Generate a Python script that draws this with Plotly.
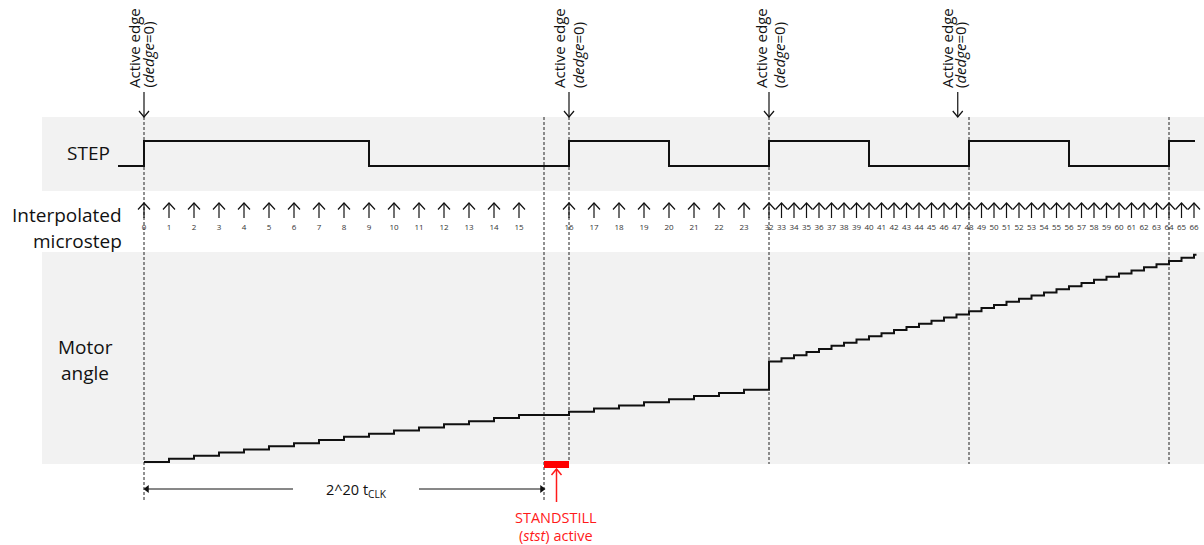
import plotly.graph_objects as go

W, H = 1204, 545
X0_PX, SLOT_PX = 144.0, 25.0      # pixel of t=0 and pixels per time slot


def px2t(px):
    return (px - X0_PX) / SLOT_PX

# ---------------- data ----------------
microstep_index = [0, 1, 2, 3, 4, 5, 6, 7, 8, 9, 10, 11, 12, 13, 14, 15,
                   16, 17, 18, 19, 20, 21, 22, 23,
                   32, 33, 34, 35, 36, 37, 38, 39, 40, 41, 42, 43, 44, 45, 46, 47,
                   48, 49, 50, 51, 52, 53, 54, 55, 56, 57, 58, 59, 60, 61, 62, 63,
                   64, 65, 66]
microstep_time = [0, 1, 2, 3, 4, 5, 6, 7, 8, 9, 10, 11, 12, 13, 14, 15,
                  17, 18, 19, 20, 21, 22, 23, 24,
                  25, 25.5, 26, 26.5, 27, 27.5, 28, 28.5, 29, 29.5, 30, 30.5, 31, 31.5, 32, 32.5,
                  33, 33.5, 34, 34.5, 35, 35.5, 36, 36.5, 37, 37.5, 38, 38.5, 39, 39.5, 40, 40.5,
                  41, 41.5, 42]

step_time = [-1.04, 0, 9, 17, 21, 25, 29, 33, 37, 41, 42.04]
step_level = [0, 1, 0, 1, 0, 1, 0, 1, 0, 1, 1]

angle_time = microstep_time + [42.1]
angle_value = microstep_index + [66]

active_edge_time = [0, 17, 25, 32.55]
marker_time = [0, 16, 17, 25, 33, 41]
marker_bottom_px = [502, 502, 461, 464, 464, 464]
standstill_start, standstill_end = 16, 17

# ---------------- axis mappings ----------------
def overlay_range(v_a, p_a, v_b, p_b):
    s = (p_a - p_b) / (v_b - v_a)          # pixels per unit (upwards)
    hi = v_a + p_a / s
    lo = hi - H / s
    return [lo, hi]

angle_range = overlay_range(0, 462, 64, 261)
step_range = overlay_range(0, 166, 1, 141)

FONT = "Open Sans"
INK = "#111111"
RED = "#ff1a1a"

fig = go.Figure()

# STEP signal
fig.add_trace(go.Scatter(x=step_time, y=step_level, yaxis="y3", mode="lines",
                         line=dict(color=INK, width=2, shape="hv"), hoverinfo="skip"))

# Motor angle
fig.add_trace(go.Scatter(x=angle_time, y=angle_value, yaxis="y2", mode="lines",
                         line=dict(color=INK, width=2, shape="hv"), hoverinfo="skip"))

# vertical dashed marker lines
vx, vy = [], []
for t, b in zip(marker_time, marker_bottom_px):
    vx += [t, t, None]
    vy += [117, b, None]
fig.add_trace(go.Scatter(x=vx, y=vy, mode="lines",
                         line=dict(color="#222222", width=1, dash="3px,2px"), hoverinfo="skip"))

# interpolated microstep arrows
ax_, ay_ = [], []
hw = 6 / SLOT_PX
for t in microstep_time:
    ax_ += [t, t, None, t - hw, t, t + hw, None]
    ay_ += [218, 203, None, 209.5, 203, 209.5, None]
fig.add_trace(go.Scatter(x=ax_, y=ay_, mode="lines",
                         line=dict(color=INK, width=1.2), hoverinfo="skip"))
fig.add_trace(go.Scatter(x=microstep_time, y=[228] * len(microstep_time), mode="text",
                         text=[str(i) for i in microstep_index],
                         textfont=dict(family=FONT, size=8, color="#333333"), hoverinfo="skip"))

# active edge arrows
ex, ey = [], []
hw2 = 5 / SLOT_PX
for t in active_edge_time:
    ex += [t, t, None, t - hw2, t, t + hw2, None]
    ey += [92, 117, None, 111, 117, 111, None]
fig.add_trace(go.Scatter(x=ex, y=ey, mode="lines",
                         line=dict(color=INK, width=1.2), hoverinfo="skip"))

# red standstill arrow
rt = (standstill_start + standstill_end) / 2
fig.add_trace(go.Scatter(x=[rt, rt, None, rt - hw2, rt, rt + hw2],
                         y=[502, 469, None, 475, 469, 475], mode="lines",
                         line=dict(color=RED, width=1.5), hoverinfo="skip"))

# 2^20 tCLK dimension arrows
tip_l, tip_r = 0.12, standstill_start - 0.08
fig.add_trace(go.Scatter(x=[tip_l, px2t(293), None, px2t(419), tip_r],
                         y=[489, 489, None, 489, 489], mode="lines",
                         line=dict(color=INK, width=1), hoverinfo="skip"))
fig.add_trace(go.Scatter(x=[tip_l, tip_r], y=[489, 489], mode="markers",
                         marker=dict(symbol=["triangle-left", "triangle-right"], size=7,
                                     color=INK, line=dict(width=0)), hoverinfo="skip"))

shapes = [
    dict(type="rect", xref="x", yref="y", x0=px2t(42), x1=px2t(W + 5), y0=117, y1=191,
         fillcolor="#f2f2f2", line=dict(width=0), layer="below"),
    dict(type="rect", xref="x", yref="y", x0=px2t(42), x1=px2t(W + 5), y0=252, y1=464,
         fillcolor="#f2f2f2", line=dict(width=0), layer="below"),
    dict(type="rect", xref="x", yref="y", x0=standstill_start, x1=standstill_end, y0=461, y1=468,
         fillcolor="#ff0000", line=dict(width=0)),
]

ann = []

def txt(x_px, y_px, s, size, color=INK, xanchor="center", angle=0, yanchor="middle"):
    ann.append(dict(x=px2t(x_px), y=y_px, xref="x", yref="y", text=s, showarrow=False,
                    xanchor=xanchor, yanchor=yanchor, textangle=angle,
                    font=dict(family=FONT, size=size, color=color)))

txt(112, 153, "STEP", 19, xanchor="right")
txt(124, 215, "Interpolated", 19, xanchor="right")
txt(124, 241, "microstep", 19, xanchor="right")
txt(85, 347, "Motor", 19)
txt(85, 373, "angle", 19)

active_x = [134, 559, 761, 947]
dedge_x = [147.5, 578, 779, 960]
for a, d in zip(active_x, dedge_x):
    txt(a, 90, "Active edge", 15, angle=-90, yanchor="bottom")
    txt(d, 90, "(<i>dedge</i>=0)", 15, angle=-90, yanchor="bottom")

txt(356, 490, "2^20 t<sub>CLK</sub>", 14.5)

txt(556, 517, "STANDSTILL", 14.5, color=RED)
txt(556, 535, "(<i>stst</i>) active", 14.5, color=RED)

ax_off = dict(visible=False, showgrid=False, zeroline=False)
fig.update_layout(
    width=W, height=H,
    margin=dict(l=0, r=0, t=0, b=0, pad=0),
    paper_bgcolor="white", plot_bgcolor="white",
    showlegend=False,
    xaxis=dict(range=[px2t(0), px2t(W)], **ax_off),
    yaxis=dict(range=[H, 0], **ax_off),
    yaxis2=dict(range=angle_range, overlaying="y", anchor="x", **ax_off),
    yaxis3=dict(range=step_range, overlaying="y", anchor="x", **ax_off),
    shapes=shapes,
    annotations=ann,
)

fig.write_html("out.html", config={"displayModeBar": False, "staticPlot": True},
               post_script="document.body.style.margin='0';document.body.style.overflow='hidden';")
